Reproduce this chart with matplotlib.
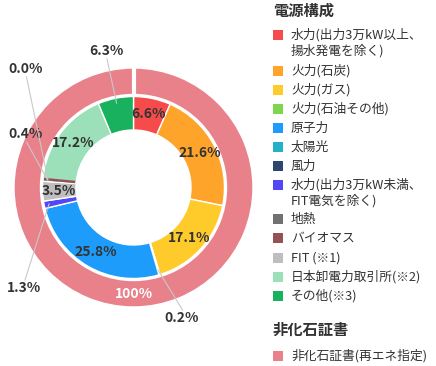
import matplotlib
matplotlib.use('Agg')
import matplotlib.pyplot as plt
import numpy as np
from matplotlib.patches import Rectangle

plt.rcParams['font.family'] = ['Noto Sans CJK JP', 'DejaVu Sans']

# ---------------- data ----------------
legend_title_1 = '電源構成'
legend_labels = [
    '水力(出力3万kW以上、\n揚水発電を除く)',
    '火力(石炭)',
    '火力(ガス)',
    '火力(石油その他)',
    '原子力',
    '太陽光',
    '風力',
    '水力(出力3万kW未満、\nFIT電気を除く)',
    '地熱',
    'バイオマス',
    'FIT (※1)',
    '日本卸電力取引所(※2)',
    'その他(※3)',
]
legend_colors = ['#F64B4B', '#FFA42B', '#FFCB2B', '#7ED550', '#1E9CFB', '#22B1C9',
                 '#2C4670', '#5246F7', '#717171', '#965252', '#BEBEBE', '#9BE0B8', '#19B05E']

# inner ring (clockwise from top), given as indices into the legend
ring_items = [0, 1, 2, 3, 4, 7, 10, 5, 9, 11, 12]
ring_values = [6.6, 21.6, 17.1, 0.2, 25.8, 1.3, 3.5, 0.4, 0.0, 17.2, 6.3]

legend_title_2 = '非化石証書'
cert_label = '非化石証書(再エネ指定)'
cert_color = '#E9818B'
cert_values = [100]

# ---------------- layout / style ----------------
W, H = 436, 366
fig = plt.figure(figsize=(W / 100, H / 100), dpi=100)
ax = fig.add_axes([0, 0, 1, 1])

def Y(ypx):
    return H - ypx

cx, cy = 133.5, Y(187.5)
R_out, W_out = 119.5, 26.5
R_in, W_in = 91.0, 33.5
txt = '#333333'

# outer ring
ax.pie(cert_values, colors=[cert_color], radius=R_out, center=(cx, cy),
       startangle=90, counterclock=False,
       wedgeprops=dict(width=W_out, edgecolor='white', linewidth=1.0))
ax.plot([cx, cx], [cy + R_out - W_out - 1, cy + R_out + 1], color='white', lw=3,
        solid_capstyle='butt')

# inner ring
ring_colors = [legend_colors[i] for i in ring_items]
ax.pie(ring_values, colors=ring_colors, radius=R_in, center=(cx, cy),
       startangle=90, counterclock=False,
       wedgeprops=dict(width=W_in, edgecolor='white', linewidth=1.0))

total = sum(ring_values)
cum = np.cumsum([0] + ring_values)

def pt(frac, r):
    a = np.deg2rad(90 - 360 * frac)
    return cx + r * np.cos(a), cy + r * np.sin(a)

# zero-valued slices shown as a thin line
for k, v in enumerate(ring_values):
    if v == 0:
        f = cum[k] / total
        x0, y0 = pt(f, R_in - W_in + 1)
        x1, y1 = pt(f, R_in - 1)
        ax.plot([x0, x1], [y0, y1], color=ring_colors[k], lw=1.8, solid_capstyle='butt', zorder=5)

# labels
outside_pos = {3: (181.5, 318), 5: (24, 288), 7: (25.5, 134), 8: (25.5, 69), 10: (106, 51)}
for k, v in enumerate(ring_values):
    fmid = (cum[k] + cum[k + 1]) / 2 / total
    s = f'{v:.1f}%'
    if k in outside_pos:
        lx, ly = outside_pos[k]
        ly = Y(ly)
        ex, ey = pt(fmid, 86)
        sy = ly - 8 if ey < ly else ly + 8
        ax.plot([lx + 1, ex], [sy, ey], color='#C8C8C8', lw=0.8, zorder=6)
        ax.text(lx, ly, s, ha='center', va='center', fontsize=10, color=txt, fontweight='bold')
    else:
        lx, ly = pt(fmid, 75)
        ax.text(lx, ly, s, ha='center', va='center', fontsize=10, color=txt,
                fontweight='bold', zorder=7)

# outer ring label
ox, oy = pt(0.5, R_out - W_out / 2)
ax.text(ox, oy, f'{cert_values[0]}%', ha='center', va='center', fontsize=10,
        color='white', fontweight='bold')

# legend
lx0 = 273
ax.text(lx0, Y(11), legend_title_1, ha='left', va='center', fontsize=11,
        fontweight='bold', color=txt)
item_y = [35, 71, 90, 109, 128, 147, 166, 185, 219, 238, 258, 277, 296]
for lab, col, yy in zip(legend_labels, legend_colors, item_y):
    ax.add_patch(Rectangle((lx0, Y(yy) - 5), 10, 10, color=col, lw=0))
    ax.text(291, Y(yy), lab.split('\n')[0], ha='left', va='center', fontsize=9.2, color=txt)
    if '\n' in lab:
        ax.text(291, Y(yy + 16), lab.split('\n')[1], ha='left', va='center', fontsize=9.2, color=txt)

ax.text(lx0, Y(330), legend_title_2, ha='left', va='center', fontsize=11,
        fontweight='bold', color=txt)
ax.add_patch(Rectangle((lx0, Y(356) - 5), 10, 10, color=cert_color, lw=0))
ax.text(291, Y(356), cert_label, ha='left', va='center', fontsize=9.2, color=txt)

ax.set_xlim(0, W)
ax.set_ylim(0, H)
ax.axis('off')
fig.savefig('out.png', dpi=100)
